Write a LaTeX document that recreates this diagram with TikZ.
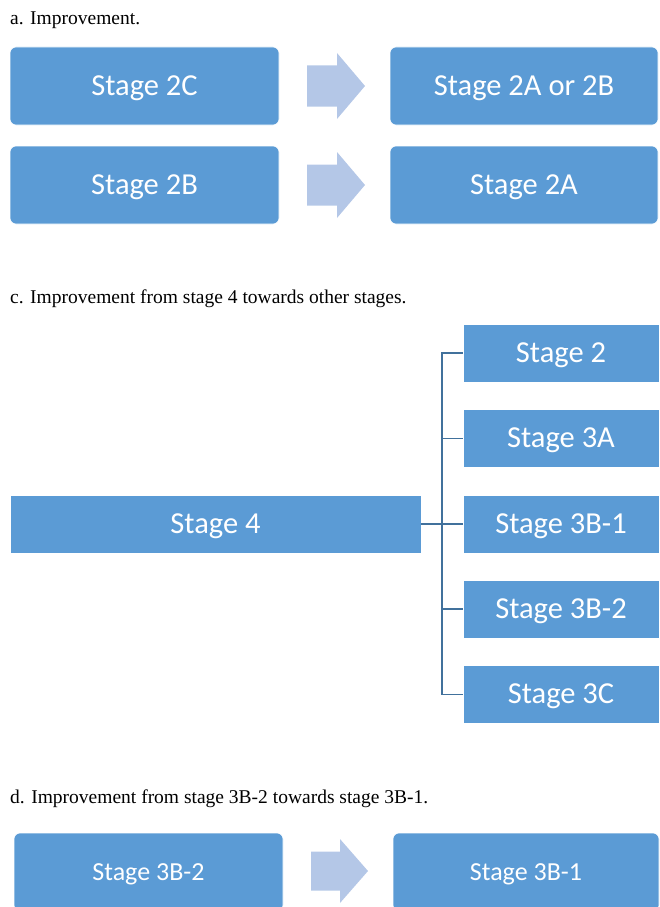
\documentclass[tikz,border=0pt]{standalone}
\usepackage{fontspec}
\setmainfont{Liberation Serif}
\newfontfamily\boxfont{Carlito}
\definecolor{boxblue}{HTML}{5B9BD5}
\definecolor{arrowblue}{HTML}{B4C7E7}
\definecolor{lineblue}{HTML}{41719C}
\begin{document}
\begin{tikzpicture}[x=1pt,y=-1pt,
  stagebox/.style={draw=white, line width=0.6pt, fill=boxblue, text=white, font=\boxfont\fontsize{30.5}{36}\selectfont, inner sep=0pt, text height=20pt, text depth=2pt},
  roundbox/.style={stagebox, rounded corners=6pt},
  smallbox/.style={roundbox, font=\boxfont\fontsize{26}{31}\selectfont, text height=17pt, text depth=1pt},
  title/.style={anchor=base west, inner sep=0pt, font=\fontsize{19.5}{23}\selectfont},
  blockarrow/.style={fill=arrowblue, draw=none},
  conn/.style={draw=lineblue, line width=1.4pt}]
\useasboundingbox (0,0) rectangle (659,907);
% titles
\node[title] (ta) at (10,25) {a. Improvement.};
\node[title] (tc) at (10,303) {c. Improvement from stage 4 towards other stages.};
\node[title] (td) at (10,803) {d. Improvement from stage 3B-2 towards stage 3B-1.};
% section a
\node[roundbox, minimum width=269pt, minimum height=78pt] (a1) at (144.5,86) {Stage 2C};
\node[roundbox, minimum width=268pt, minimum height=78pt] (a2) at (524,86) {Stage 2A or 2B};
\node[roundbox, minimum width=269pt, minimum height=78pt] (a3) at (144.5,185) {Stage 2B};
\node[roundbox, minimum width=268pt, minimum height=78pt] (a4) at (524,185) {Stage 2A};
\fill[blockarrow] (307,65.5) -- (337,65.5) -- (337,53) -- (365,86) -- (337,119) -- (337,106.5) -- (307,106.5) -- cycle;
\fill[blockarrow] (307,164.5) -- (337,164.5) -- (337,152) -- (365,185) -- (337,218) -- (337,205.5) -- (307,205.5) -- cycle;
% section c
\node[stagebox, minimum width=411pt, minimum height=58pt] (s4) at (215.5,524) {Stage 4};
\node[stagebox, minimum width=196pt, minimum height=58pt] (c1) at (561,353) {Stage 2};
\node[stagebox, minimum width=196pt, minimum height=58pt] (c2) at (561,438.5) {Stage 3A};
\node[stagebox, minimum width=196pt, minimum height=58pt] (c3) at (561,524) {Stage 3B-1};
\node[stagebox, minimum width=196pt, minimum height=58pt] (c4) at (561,609) {Stage 3B-2};
\node[stagebox, minimum width=196pt, minimum height=58pt] (c5) at (561,694.5) {Stage 3C};
\coordinate (j) at (442,524);
\draw[conn] (s4.east) -- (c3.west);
\draw[conn] (j) |- (c1.west);
\draw[conn] (j) |- (c2.west);
\draw[conn] (j) |- (c4.west);
\draw[conn] (j) |- (c5.west);
% section d
\node[smallbox, minimum width=269pt, minimum height=78pt] (d1) at (148.5,872) {Stage 3B-2};
\node[smallbox, minimum width=266pt, minimum height=78pt] (d2) at (526,872) {Stage 3B-1};
\fill[blockarrow] (311,851.5) -- (340,851.5) -- (340,839) -- (368,871) -- (340,903) -- (340,890.5) -- (311,890.5) -- cycle;
\end{tikzpicture}
\end{document}
